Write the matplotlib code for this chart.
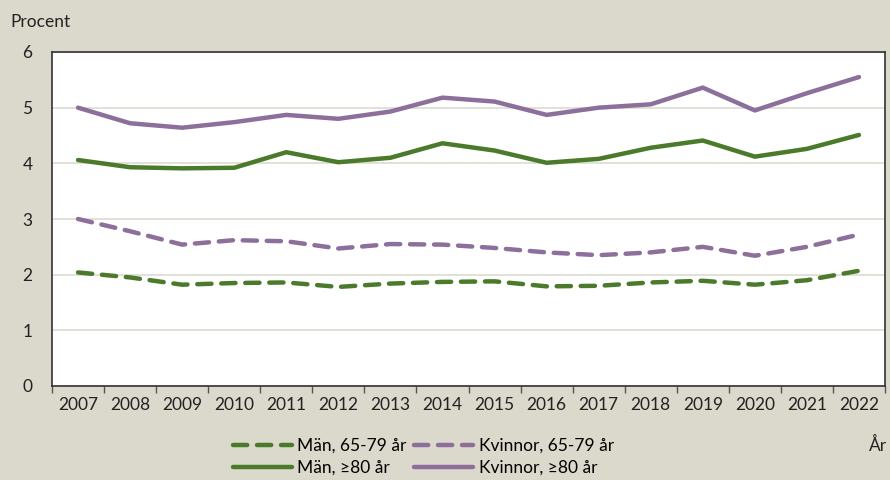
import matplotlib
matplotlib.use("Agg")
import matplotlib.pyplot as plt
import numpy as np

years = list(range(2007, 2023))
man_65_79 = [2.04, 1.95, 1.82, 1.85, 1.86, 1.78, 1.84, 1.87, 1.88, 1.79, 1.80, 1.86, 1.89, 1.82, 1.90, 2.07]
kvinnor_65_79 = [3.00, 2.78, 2.54, 2.62, 2.60, 2.47, 2.55, 2.54, 2.48, 2.40, 2.35, 2.40, 2.50, 2.34, 2.50, 2.72]
man_80 = [4.06, 3.93, 3.91, 3.92, 4.20, 4.02, 4.10, 4.36, 4.23, 4.01, 4.08, 4.28, 4.41, 4.12, 4.26, 4.51]
kvinnor_80 = [5.00, 4.72, 4.64, 4.74, 4.87, 4.80, 4.93, 5.18, 5.11, 4.87, 5.00, 5.06, 5.36, 4.95, 5.26, 5.55]

green = "#4a7a2a"
purple = "#8c6f9a"
bg = "#dbd9cc"

plt.rcParams['font.family'] = ['Lato', 'DejaVu Sans']

fig = plt.figure(figsize=(8.9, 4.8), dpi=100, facecolor=bg)
ax = fig.add_axes([52/890, 1-386/480, 833/890, 334/480])
ax.set_facecolor("white")

x = np.arange(len(years))
lw = 3.2
dash = (0, (3.2, 2.2))
l1, = ax.plot(x, man_65_79, color=green, lw=lw, linestyle=dash, dash_capstyle='round', label="Män, 65-79 år")
l3, = ax.plot(x, kvinnor_65_79, color=purple, lw=lw, linestyle=dash, dash_capstyle='round', label="Kvinnor, 65-79 år")
l2, = ax.plot(x, man_80, color=green, lw=lw, solid_capstyle='round', label="Män, ≥80 år")
l4, = ax.plot(x, kvinnor_80, color=purple, lw=lw, solid_capstyle='round', label="Kvinnor, ≥80 år")

ax.set_xlim(-0.5, len(years) - 0.5)
ax.set_ylim(0, 6)
ax.set_yticks(range(0, 7))
ax.yaxis.grid(True, color="#dcdad2", lw=1.2)
ax.set_axisbelow(True)
ax.tick_params(axis='y', length=0, labelsize=12.5, pad=14, colors="#222222")
ax.set_xticks(x)
ax.set_xticklabels([str(y) for y in years])
ax.set_xticks(np.arange(-0.5, len(years)), minor=True)
ax.tick_params(axis='x', which='major', length=0, labelsize=12.5, pad=8, colors="#222222")
ax.tick_params(axis='x', which='minor', length=5, width=1, color="#555555")
for s in ax.spines.values():
    s.set_color("#333333")
    s.set_linewidth(1.2)

fig.text(10/890, 1-22/480, "Procent", fontsize=12.5, va='center', ha='left', color="#222222")
fig.text(869/890, 1-445/480, "År", fontsize=12.5, va='center', ha='left', color="#222222")

leg = fig.legend(handles=[l1, l2, l3, l4], labels=[h.get_label() for h in [l1, l2, l3, l4]],
                 ncol=2, loc='upper left', bbox_to_anchor=(233/890, 1-438/480),
                 frameon=False, fontsize=12.5, handlelength=3.4, handletextpad=0.3,
                 columnspacing=0.45, labelspacing=0.35, borderpad=0, borderaxespad=0)

fig.savefig("out.png", dpi=100, facecolor=bg)
